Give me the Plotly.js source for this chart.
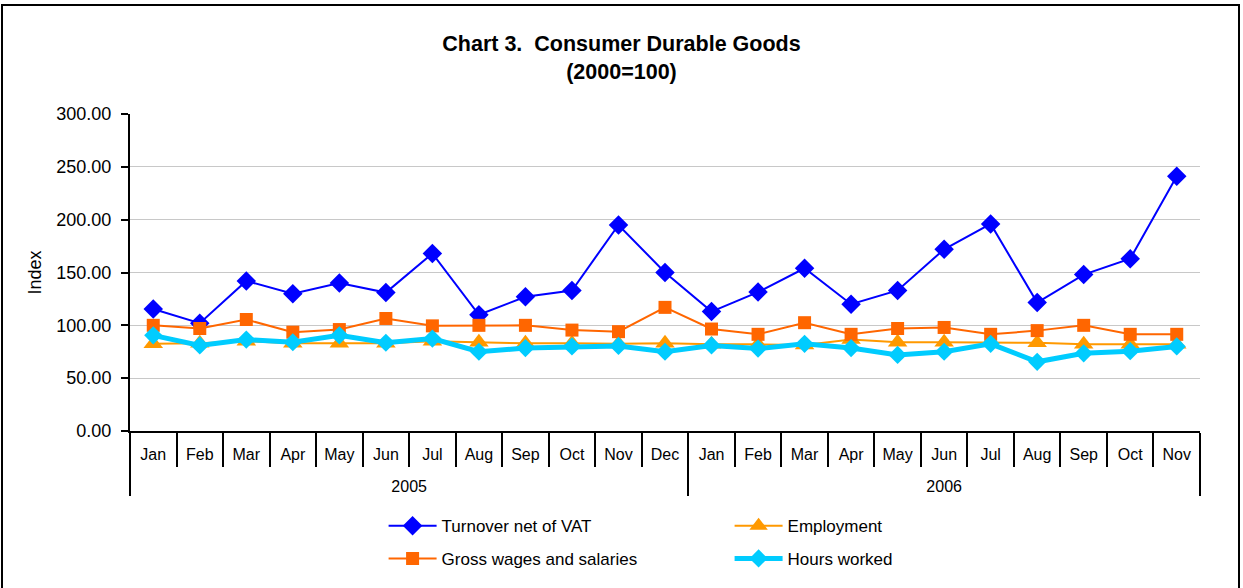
<!DOCTYPE html>
<html>
<head>
<meta charset="utf-8">
<script src="https://cdn.plot.ly/plotly-3.0.1.min.js"></script>
<style>
  html, body { margin: 0; padding: 0; background: #fff; }
  #wrap { position: relative; width: 1243px; height: 588px; overflow: hidden; }
  #chart { width: 1243px; height: 588px; }
  #frame { position: absolute; left: 1px; top: 4px; width: 1239px; height: 620px;
           border: 2px solid #000; pointer-events: none; box-sizing: border-box; }
</style>
</head>
<body>
<div id="wrap">
  <div id="chart"></div>
  <div id="frame"></div>
</div>
<script>
const years = ["2005","2005","2005","2005","2005","2005","2005","2005","2005","2005","2005","2005",
               "2006","2006","2006","2006","2006","2006","2006","2006","2006","2006","2006"];
const months = ["Jan","Feb","Mar","Apr","May","Jun","Jul","Aug","Sep","Oct","Nov","Dec",
                "Jan","Feb","Mar","Apr","May","Jun","Jul","Aug","Sep","Oct","Nov"];

const turnover = [115.5, 102, 142, 130, 140, 131, 168, 110, 127, 133, 195, 150,
                  113, 131.5, 154, 120, 133, 172, 196, 121.5, 148, 163, 241];
const employment = [82.5, 83, 85, 83, 83, 83, 85, 84, 83, 83, 82.5, 83,
                    82, 82, 81.5, 86.5, 84, 84, 84, 83.5, 82, 82, 82];
const grossWages = [100, 97, 105.5, 93.5, 96, 106.5, 99.5, 100, 100, 95.5, 94, 117,
                    96.5, 91.5, 102.5, 91.5, 97, 98, 91.5, 95, 100, 91.5, 91.5];
const hoursWorked = [90.5, 81, 86.5, 84, 90.5, 83.5, 87.5, 75, 78.5, 80, 80.5, 75,
                     81, 78, 82.5, 78.5, 72, 75, 82.5, 65.5, 73.5, 75.5, 80];

// year labels sit one line lower, below the month row
const xCats = [years.map(function (y) { return "<br>" + y; }), months];

const traces = [
  { name: "Turnover net of VAT", x: xCats, y: turnover, type: "scatter", mode: "lines+markers",
    line: { color: "#0000FF", width: 2 }, marker: { symbol: "diamond", size: 15, color: "#0000FF" },
    legend: "legend" },
  { name: "Employment", x: xCats, y: employment, type: "scatter", mode: "lines+markers",
    line: { color: "#FF9900", width: 2 }, marker: { symbol: "triangle-up", size: 17, color: "#FF9900" },
    legend: "legend" },
  { name: "Gross wages and salaries", x: xCats, y: grossWages, type: "scatter", mode: "lines+markers",
    line: { color: "#FF6600", width: 2 }, marker: { symbol: "square", size: 13, color: "#FF6600" },
    legend: "legend2" },
  { name: "Hours worked", x: xCats, y: hoursWorked, type: "scatter", mode: "lines+markers",
    line: { color: "#00CCFF", width: 5 }, marker: { symbol: "diamond", size: 14, color: "#00CCFF" },
    legend: "legend2" }
];

const fontFam = "Liberation Sans, Arial, sans-serif";

const layout = {
  width: 1243, height: 588,
  margin: { l: 130, r: 43, t: 114, b: 156 },
  paper_bgcolor: "#ffffff", plot_bgcolor: "#ffffff",
  font: { family: fontFam, color: "#000" },
  title: { text: "<b>Chart 3.  Consumer Durable Goods</b><br><b>(2000=100)</b>",
           font: { size: 21.5, family: fontFam, color: "#000" },
           x: 0.5, xanchor: "center", xref: "container",
           y: 0.9135, yanchor: "middle", yref: "container" },
  xaxis: {
    type: "multicategory",
    range: [-0.5, 22.5],
    showline: true, linecolor: "#000", linewidth: 2,
    ticks: "outside", tickson: "boundaries", ticklen: 34, tickwidth: 2, tickcolor: "#000",
    ticklabelstandoff: 8,
    showdividers: true, dividercolor: "#000", dividerwidth: 2,
    showgrid: false, zeroline: false,
    tickfont: { size: 16, family: fontFam, color: "#000" }
  },
  yaxis: {
    range: [0, 300], dtick: 50, tick0: 0, tickformat: ".2f",
    showline: true, linecolor: "#000", linewidth: 2,
    ticks: "outside", ticklen: 7, tickwidth: 2, tickcolor: "#000",
    ticklabelstandoff: 6,
    showgrid: true, gridcolor: "#C8C8C8", gridwidth: 1,
    zeroline: false,
    tickfont: { size: 18, family: fontFam, color: "#000" },
    title: { text: "Index", font: { size: 18, family: fontFam, color: "#000" }, standoff: 10 }
  },
  showlegend: true,
  legend: {
    orientation: "h", x: 0.237, xanchor: "left", y: -0.296, yanchor: "middle",
    entrywidth: 283, itemwidth: 48, font: { size: 17, family: fontFam, color: "#000" },
    bgcolor: "rgba(0,0,0,0)", traceorder: "normal"
  },
  legend2: {
    orientation: "h", x: 0.237, xanchor: "left", y: -0.399, yanchor: "middle",
    entrywidth: 283, itemwidth: 48, font: { size: 17, family: fontFam, color: "#000" },
    bgcolor: "rgba(0,0,0,0)", traceorder: "normal"
  }
};

Plotly.newPlot("chart", traces, layout, { displayModeBar: false, staticPlot: true });
</script>
</body>
</html>
